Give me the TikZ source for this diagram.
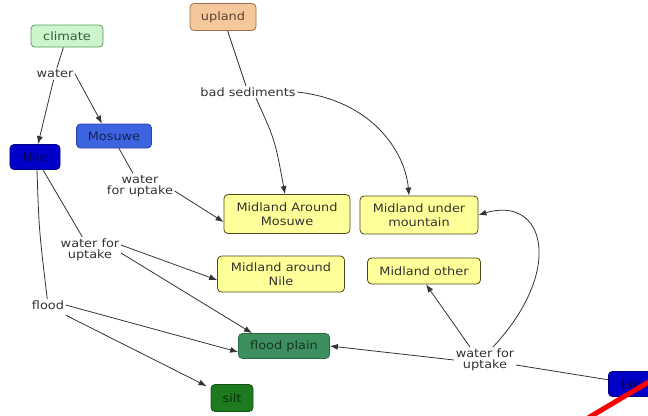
\documentclass[tikz,border=0pt]{standalone}
\usepackage{fontspec}
\setmainfont{DejaVu Sans}[FakeStretch=1.12]
\usetikzlibrary{arrows.meta}
\definecolor{climfill}{HTML}{CCF5CC}
\definecolor{climdraw}{HTML}{5A9A5A}
\definecolor{uplfill}{HTML}{F5C89C}
\definecolor{upldraw}{HTML}{9A7050}
\definecolor{mosfill}{HTML}{3C64E0}
\definecolor{mosdraw}{HTML}{2A44A0}
\definecolor{nilefill}{HTML}{0000C8}
\definecolor{niledraw}{HTML}{000080}
\definecolor{yelfill}{HTML}{FFFF99}
\definecolor{yeldraw}{HTML}{4A4A20}
\definecolor{fpfill}{HTML}{3D8F5F}
\definecolor{fpdraw}{HTML}{2A6A45}
\definecolor{siltfill}{HTML}{1E7A1E}
\definecolor{siltdraw}{HTML}{145214}
\definecolor{txt}{HTML}{333333}
\definecolor{lin}{HTML}{333333}
\tikzset{
  box/.style={rounded corners=4bp, line width=0.8bp, align=center, inner sep=2bp,
    font=\fontsize{11.5bp}{13.5bp}\selectfont, text=txt},
  lbl/.style={fill=white, align=center, inner sep=1.5bp,
    font=\fontsize{11.5bp}{11.5bp}\selectfont, text=txt},
  con/.style={draw=lin, line width=0.8bp},
  arr/.style={con, -{Latex[length=8bp,width=6bp]}}
}
\begin{document}
\begin{tikzpicture}[x=1bp,y=-1bp]
\useasboundingbox (0,0) rectangle (648,415);
% nodes
\node[box, fill=climfill, draw=climdraw, text=climdraw!60!black, minimum width=72bp, minimum height=22bp] (climate) at (67,36) {climate};
\node[box, fill=uplfill, draw=upldraw, text=upldraw!60!black, minimum width=66bp, minimum height=27bp] (upland) at (223,17) {upland};
\node[box, fill=mosfill, draw=mosdraw, text=mosdraw!50!black, minimum width=75bp, minimum height=24bp] (mosuwe) at (114,136) {Mosuwe};
\node[box, fill=nilefill, draw=niledraw, text=niledraw!70!black, minimum width=50bp, minimum height=25bp] (nile) at (35,157) {Nile};
\node[box, fill=yelfill, draw=yeldraw, minimum width=126bp, minimum height=39bp] (mam) at (287,214) {Midland Around\\Mosuwe};
\node[box, fill=yelfill, draw=yeldraw, minimum width=118bp, minimum height=38bp] (mum) at (419,215) {Midland under\\mountain};
\node[box, fill=yelfill, draw=yeldraw, minimum width=127bp, minimum height=36bp] (man) at (281,274) {Midland around\\Nile};
\node[box, fill=yelfill, draw=yeldraw, minimum width=113bp, minimum height=26bp] (mo) at (424,271) {Midland other};
\node[box, fill=fpfill, draw=fpdraw, text=fpdraw!50!black, minimum width=91bp, minimum height=25bp] (fp) at (284,346) {flood plain};
\node[box, fill=siltfill, draw=siltdraw, text=siltdraw!60!black, minimum width=42bp, minimum height=27bp] (silt) at (232,398) {silt};
\node[box, fill=nilefill, draw=niledraw, text=niledraw!70!black, minimum width=52bp, minimum height=25bp, anchor=west] (lake) at (608,384) {lake};
% labels
\node[lbl] (water) at (55,74) {water};
\node[lbl] (bad) at (248,92) {bad sediments};
\node[lbl] (wfu1) at (140,186) {water\\for uptake};
\node[lbl] (wfu2) at (90,250) {water for\\uptake};
\node[lbl] (flood) at (48,305) {flood};
\node[lbl] (wfu3) at (485,360) {water for\\uptake};
% connectors
\draw[con] (climate) -- (water);
\draw[arr] (water) -- ([xshift=3bp]nile.north);
\draw[arr] (water.east) -- ([xshift=-12bp]mosuwe.north);
\draw[con] (upland) -- (bad);
\draw[arr] ([xshift=8bp]bad.south) .. controls (275,140) .. ([xshift=-2bp]mam.north);
\draw[arr] (bad.east) .. controls (370,100) and (405,150) .. ([xshift=-10bp]mum.north);
\draw[con] ([xshift=5bp]mosuwe.south) -- (wfu1);
\draw[arr] ([yshift=-5bp]wfu1.east) -- ([yshift=-8bp]mam.west);
\draw[con] ([xshift=8bp]nile.south) -- (wfu2);
\draw[arr] ([yshift=5bp]wfu2.east) -- ([yshift=-6bp]man.west);
\draw[arr] ([yshift=-3bp]wfu2.east) -- ([xshift=-32bp]fp.north);
\draw[con] ([xshift=2bp]nile.south) .. controls (39,230) .. (flood);
\draw[arr] (flood.east) -- ([yshift=-6bp]fp.west);
\draw[arr] ([yshift=-4bp]flood.south east) -- ([xshift=-4bp,yshift=-2bp]silt.north west);
\draw[con] (lake) -- (wfu3);
\draw[arr] (wfu3.west) -- (fp.east);
\draw[arr] ([xshift=-15bp]wfu3.north) -- ([xshift=2bp]mo.south);
\draw[arr] ([xshift=8bp]wfu3.north) .. controls (565,270) and (545,195) .. (mum.east);
% red stroke
\draw[red, line width=5bp] (588,418) -- (652,380);
\end{tikzpicture}
\end{document}
